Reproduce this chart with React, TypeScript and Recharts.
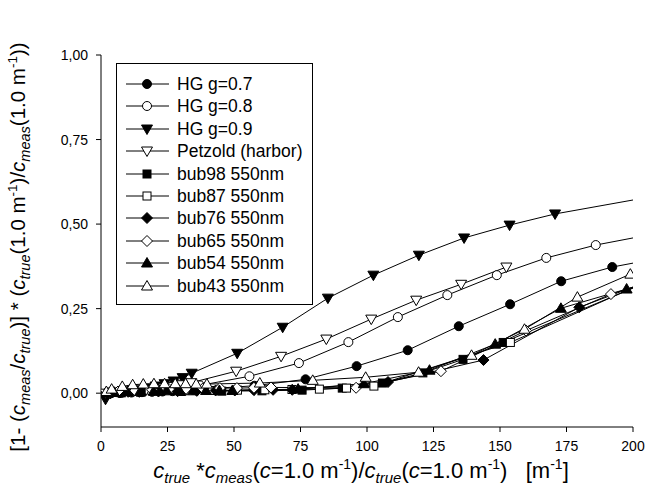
import { ComposedChart, Line, XAxis, YAxis, Legend } from "recharts";

// x = c_true * c_meas(1)/c_true(1), y = relative error
const hg07X = [1.9, 3.8, 7.7, 11.5, 15.4, 19.2, 23.1, 26.9, 30.8, 34.6, 38.4, 57.7, 76.9, 96.1, 115.3, 134.5, 153.8, 173.0, 192.2, 230.6];
const hg07Y = [0.0, 0.0, 0.001, 0.002, 0.003, 0.004, 0.005, 0.006, 0.008, 0.01, 0.012, 0.022, 0.041, 0.08, 0.127, 0.198, 0.263, 0.331, 0.373, 0.43];

const hg08X = [1.9, 3.7, 7.4, 11.2, 14.9, 18.6, 22.3, 26.0, 29.8, 33.5, 37.2, 55.8, 74.4, 93.0, 111.6, 130.2, 148.8, 167.4, 186.0, 223.2];
const hg08Y = [0.0, 0.001, 0.002, 0.003, 0.005, 0.007, 0.009, 0.012, 0.015, 0.019, 0.023, 0.05, 0.089, 0.151, 0.225, 0.29, 0.349, 0.4, 0.438, 0.494];

const hg09X = [1.7, 3.4, 6.8, 10.2, 13.7, 17.1, 20.5, 23.9, 27.3, 30.7, 34.1, 51.2, 68.3, 85.3, 102.4, 119.5, 136.5, 153.6, 170.7, 204.8];
const hg09Y = [-0.018, 0.0, 0.003, 0.006, 0.01, 0.015, 0.021, 0.028, 0.036, 0.046, 0.059, 0.118, 0.195, 0.281, 0.349, 0.408, 0.459, 0.497, 0.53, 0.578];

const petX = [1.7, 3.4, 6.8, 10.2, 13.5, 16.9, 20.3, 23.7, 27.1, 30.5, 33.9, 50.8, 67.7, 84.7, 101.6, 118.5, 135.4, 152.4];
const petY = [0.0, 0.0, 0.002, 0.004, 0.006, 0.009, 0.012, 0.016, 0.02, 0.025, 0.031, 0.065, 0.109, 0.16, 0.219, 0.275, 0.322, 0.373];

const bub98X = [7.6, 15.1, 30.2, 45.4, 60.5, 75.6, 90.7, 105.8, 121.0, 136.1, 151.2, 226.8];
const bub98Y = [0.001, 0.003, 0.005, 0.006, 0.007, 0.009, 0.015, 0.03, 0.06, 0.1, 0.15, 0.399];

const bub87X = [5.1, 10.3, 20.5, 30.8, 41.0, 51.3, 61.6, 71.8, 82.1, 92.3, 102.6, 153.9, 205.2];
const bub87Y = [0.002, 0.004, 0.006, 0.007, 0.008, 0.009, 0.01, 0.011, 0.012, 0.015, 0.021, 0.15, 0.33];

const bub76X = [3.6, 7.2, 14.4, 21.6, 28.8, 36.0, 43.1, 50.3, 57.5, 64.7, 71.9, 107.9, 143.8, 179.8, 215.7];
const bub76Y = [0.0, 0.002, 0.004, 0.005, 0.006, 0.007, 0.008, 0.008, 0.009, 0.01, 0.01, 0.033, 0.098, 0.254, 0.36];

const bub65X = [3.2, 6.4, 12.8, 19.2, 25.6, 32.0, 38.3, 44.7, 51.1, 57.5, 63.9, 95.9, 127.8, 159.8, 191.7, 223.7];
const bub65Y = [0.002, 0.005, 0.008, 0.01, 0.012, 0.013, 0.014, 0.015, 0.015, 0.016, 0.017, 0.016, 0.065, 0.185, 0.293, 0.37];

const bub54X = [2.5, 4.9, 9.9, 14.8, 19.8, 24.7, 29.6, 34.6, 39.5, 44.5, 49.4, 74.1, 98.8, 123.5, 148.2, 172.9, 197.6, 222.3];
const bub54Y = [0.0, 0.003, 0.005, 0.006, 0.006, 0.007, 0.007, 0.007, 0.008, 0.008, 0.008, 0.012, 0.028, 0.068, 0.145, 0.251, 0.308, 0.365];

const bub43X = [2.0, 4.0, 8.0, 11.9, 15.9, 19.9, 23.9, 27.9, 31.8, 35.8, 39.8, 59.7, 79.6, 99.5, 119.4, 139.3, 159.2, 179.1, 199.0];
const bub43Y = [0.005, 0.012, 0.02, 0.025, 0.027, 0.028, 0.028, 0.028, 0.028, 0.027, 0.027, 0.03, 0.038, 0.047, 0.062, 0.112, 0.189, 0.284, 0.352];

const xTicks = [0, 25, 50, 75, 100, 125, 150, 175, 200];
const yTicks = [0, 0.25, 0.5, 0.75, 1];

type Shape = "circle" | "square" | "diamond" | "up" | "down";

const seriesNames = [
  "HG g=0.7", "HG g=0.8", "HG g=0.9", "Petzold (harbor)", "bub98 550nm",
  "bub87 550nm", "bub76 550nm", "bub65 550nm", "bub54 550nm", "bub43 550nm",
];
const seriesShapes: Shape[] = ["circle", "circle", "down", "down", "square", "square", "diamond", "diamond", "up", "up"];
const seriesFilled = [true, false, true, false, true, false, true, false, true, false];
const seriesX = [hg07X, hg08X, hg09X, petX, bub98X, bub87X, bub76X, bub65X, bub54X, bub43X];
const seriesY = [hg07Y, hg08Y, hg09Y, petY, bub98Y, bub87Y, bub76Y, bub65Y, bub54Y, bub43Y];

const FONT = "'Liberation Sans', Arial, sans-serif";

function marker(shape: Shape, filled: boolean, cx: number, cy: number, key?: string) {
  const fill = filled ? "#000" : "#fff";
  const common = { fill, stroke: "#000", strokeWidth: 1 };
  switch (shape) {
    case "circle":
      return <circle key={key} {...common} cx={cx} cy={cy} r={4.5} />;
    case "square":
      return <rect key={key} {...common} x={cx - 4} y={cy - 4} width={8} height={8} />;
    case "diamond":
      return <polygon key={key} {...common} points={`${cx},${cy - 5.5} ${cx + 5.5},${cy} ${cx},${cy + 5.5} ${cx - 5.5},${cy}`} />;
    case "up":
      return <polygon key={key} {...common} points={`${cx},${cy - 5.5} ${cx + 5.5},${cy + 4} ${cx - 5.5},${cy + 4}`} />;
    default:
      return <polygon key={key} {...common} points={`${cx},${cy + 5.5} ${cx + 5.5},${cy - 4} ${cx - 5.5},${cy - 4}`} />;
  }
}

const commaTick = (v: number) => v.toFixed(2).replace(".", ",");

function renderLegend() {
  return (
    <div style={{ width: 197, height: 242, border: "1px solid #000", boxSizing: "border-box", background: "#fff", position: "relative", fontFamily: FONT }}>
      {seriesNames.map((name, i) => (
        <div key={name} style={{ position: "absolute", left: 0, top: 9 + i * 22.4, height: 22, width: 196 }}>
          <svg width={56} height={22} style={{ position: "absolute", left: 0, top: 0 }}>
            <line x1={9} x2={52} y1={11} y2={11} stroke="#000" strokeWidth={1} />
            {marker(seriesShapes[i], seriesFilled[i], 30, 11)}
          </svg>
          <span style={{ position: "absolute", left: 60, top: 0, lineHeight: "22px", fontSize: 17.5, color: "#000", whiteSpace: "nowrap" }}>
            {name}
          </span>
        </div>
      ))}
    </div>
  );
}

function YTitle() {
  const cy = 247;
  const sub = { fontSize: 14.5, fontStyle: "italic" as const };
  return (
    <text transform="rotate(-90)" x={-cy} y={25} textAnchor="middle" fontFamily={FONT} fontSize={20.5} fill="#000">
      <tspan>[1- (</tspan>
      <tspan fontStyle="italic">c</tspan>
      <tspan {...sub} dy={5}>meas</tspan>
      <tspan dy={-5}>/</tspan>
      <tspan fontStyle="italic">c</tspan>
      <tspan {...sub} dy={5}>true</tspan>
      <tspan dy={-5}>)] * (</tspan>
      <tspan fontStyle="italic">c</tspan>
      <tspan {...sub} dy={5}>true</tspan>
      <tspan dy={-5}>(1.0 m</tspan>
      <tspan fontSize={13.5} dy={-8}>-1</tspan>
      <tspan dy={8}>)/</tspan>
      <tspan fontStyle="italic">c</tspan>
      <tspan {...sub} dy={5}>meas</tspan>
      <tspan dy={-5}>(1.0 m</tspan>
      <tspan fontSize={13.5} dy={-8}>-1</tspan>
      <tspan dy={8}>))</tspan>
    </text>
  );
}

function XTitle() {
  const sub = { fontSize: 15, fontStyle: "italic" as const };
  return (
    <text x={361} y={478} textAnchor="middle" fontFamily={FONT} fontSize={22} fill="#000" style={{ whiteSpace: "pre" }}>
      <tspan fontStyle="italic">c</tspan>
      <tspan {...sub} dy={5}>true</tspan>
      <tspan dy={-5}>{" *"}</tspan>
      <tspan fontStyle="italic">c</tspan>
      <tspan {...sub} dy={5}>meas</tspan>
      <tspan dy={-5}>(</tspan>
      <tspan fontStyle="italic">c</tspan>
      <tspan>=1.0 m</tspan>
      <tspan fontSize={14} dy={-9}>-1</tspan>
      <tspan dy={9}>)/</tspan>
      <tspan fontStyle="italic">c</tspan>
      <tspan {...sub} dy={5}>true</tspan>
      <tspan dy={-5}>(</tspan>
      <tspan fontStyle="italic">c</tspan>
      <tspan>=1.0 m</tspan>
      <tspan fontSize={14} dy={-9}>-1</tspan>
      <tspan dy={9}>{")\u00a0\u00a0\u00a0[m"}</tspan>
      <tspan fontSize={14} dy={-9}>-1</tspan>
      <tspan dy={9}>]</tspan>
    </text>
  );
}

export default function App() {
  return (
    <div style={{ position: "absolute", left: 0, top: 0, width: 658, height: 500, background: "#fff" }}>
      <ComposedChart width={658} height={500} margin={{ top: 55, right: 25, bottom: 0, left: 0 }}>
        <XAxis
          xAxisId="b"
          type="number"
          dataKey="x"
          domain={[0, 200]}
          ticks={xTicks}
          allowDataOverflow
          height={73}
          stroke="#000"
          tickSize={5}
          tickMargin={9}
          tick={{ fill: "#000", fontSize: 14, fontFamily: FONT }}
          label={<XTitle />}
        />
        <XAxis xAxisId="t" type="number" dataKey="x" orientation="top" domain={[0, 200]} allowDataOverflow height={0} tick={false} tickLine={false} stroke="#000" />
        <YAxis
          yAxisId="l"
          type="number"
          domain={[-0.1, 1]}
          ticks={yTicks}
          allowDataOverflow
          width={101}
          stroke="#000"
          tickSize={5}
          tickMargin={8}
          tickFormatter={commaTick}
          tick={{ fill: "#000", fontSize: 14, fontFamily: FONT }}
          label={<YTitle />}
        />
        <YAxis yAxisId="r" type="number" orientation="right" domain={[-0.1, 1]} allowDataOverflow width={0} tick={false} tickLine={false} stroke="#000" />
        {seriesNames.map((name, i) => (
          <Line
            key={name}
            name={name}
            xAxisId="b"
            yAxisId="l"
            data={seriesX[i].map((x, j) => ({ x, y: seriesY[i][j] }))}
            dataKey="y"
            type="linear"
            stroke="#000"
            strokeWidth={1}
            dot={(p: any) => marker(seriesShapes[i], seriesFilled[i], p.cx, p.cy, `${name}-${p.index}`)}
            activeDot={false}
            isAnimationActive={false}
          />
        ))}
        <Legend
          layout="vertical"
          align="center"
          verticalAlign="middle"
          content={renderLegend}
          wrapperStyle={{ position: "absolute", left: 116, top: 63, width: 197, height: 242 }}
        />
      </ComposedChart>
    </div>
  );
}
